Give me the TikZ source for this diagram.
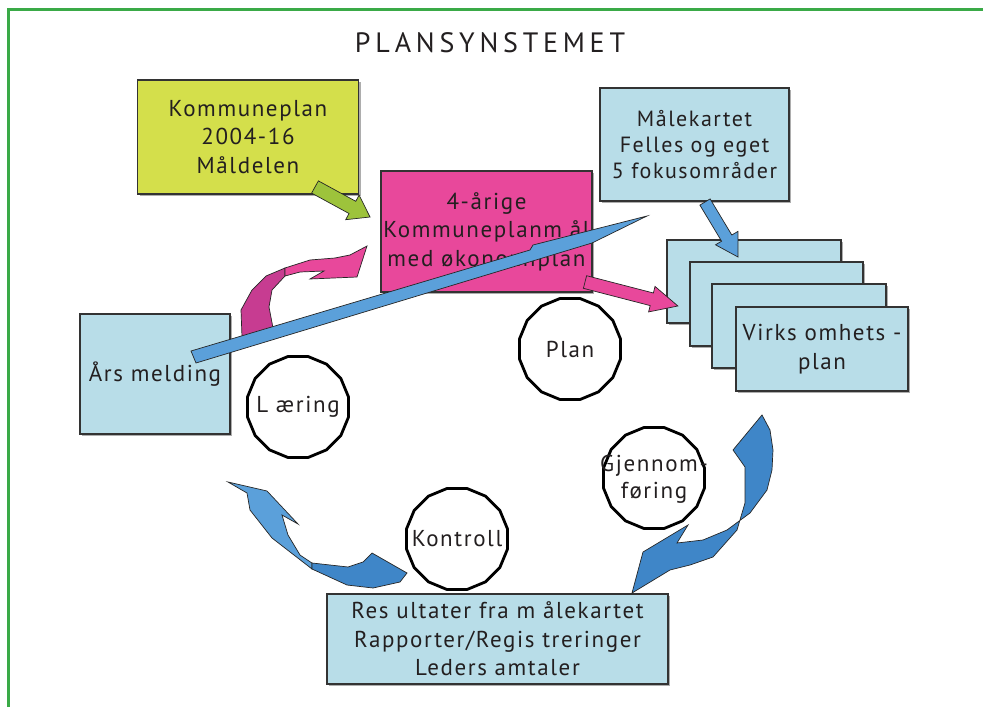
\documentclass[tikz,border=0pt]{standalone}
\usepackage{fontspec}
\setmainfont{PT Sans}[LetterSpace=7]
\usetikzlibrary{shapes.geometric,shadows}
\definecolor{txt}{HTML}{231F20}
\definecolor{frame}{HTML}{3AAA47}
\definecolor{ygreen}{HTML}{D4DF4B}
\definecolor{pinkbox}{HTML}{E8489B}
\definecolor{darkpink}{HTML}{C73C91}
\definecolor{lblue}{HTML}{B8DDE8}
\definecolor{ablue}{HTML}{5BA0DA}
\definecolor{dblue}{HTML}{3F86C8}
\definecolor{garrow}{HTML}{9DC33B}
\definecolor{edge}{HTML}{333333}
\tikzset{
  box/.style={draw=edge, line width=1.1pt, align=center, inner sep=0pt,
    drop shadow={shadow xshift=2pt, shadow yshift=-2pt, fill=black!40, opacity=0.8}},
  circ/.style={draw=black, line width=2.8pt, regular polygon, regular polygon sides=16,
    minimum size=103pt, inner sep=0pt},
  shapearrow/.style={draw=black!85, line width=0.7pt, line join=miter},
  lbl/.style={align=center, inner sep=0pt}
}
\begin{document}
\begin{tikzpicture}[x=1pt,y=-1pt,font=\fontsize{23}{28.5}\selectfont,text=txt]
\useasboundingbox (0,0) rectangle (983,707);
\fill[white] (0,0) rectangle (983,707);
% frame
\draw[frame, line width=3pt] (8.5,720) -- (8.5,9.5) -- (1000,9.5);
% title
\node[lbl, font=\fontsize{28}{30}\selectfont\addfontfeature{LetterSpace=17}] (title) at (490,43) {PLANSYNSTEMET};

% boxes
\node[box, fill=ygreen, minimum width=221pt, minimum height=114pt] (kp) at (248,137) {Kommuneplan\\2004-16\\Måldelen};
\node[box, fill=pinkbox, minimum width=211pt, minimum height=121pt] (fire) at (486.5,231.5) {4-årige\\Kommuneplanm ål\\med økonomiplan};
\node[box, fill=lblue, minimum width=189pt, minimum height=113pt, font=\fontsize{22}{26}\selectfont] (malek) at (694.5,144.5) {Målekartet\\Felles og eget\\5 fokusområder};
\node[box, fill=lblue, minimum width=174pt, minimum height=83pt] (v1) at (754,281.5) {};
\node[box, fill=lblue, minimum width=173pt, minimum height=84pt] (v2) at (776.5,304) {};
\node[box, fill=lblue, minimum width=174pt, minimum height=84pt] (v3) at (799,326) {};
\node[box, fill=lblue, minimum width=172pt, minimum height=84pt] (v4) at (822,349) {Virks omhets -\\plan};
\node[box, fill=lblue, minimum width=150pt, minimum height=120pt] (ars) at (155,374) {Års melding};
\node[box, fill=lblue, minimum width=341pt, minimum height=90pt] (res) at (497.5,639) {Res ultater fra m ålekartet\\Rapporter/Regis treringer\\Leders amtaler};

% green arrow kp -> fire
\filldraw[shapearrow, fill=garrow] (311.6,193.1) -- (318.4,180.9) -- (355.8,201.3) -- (359.1,195.1) -- (370,217) -- (345.7,219.7) -- (349.0,213.5) -- cycle;

% pink curved arrow ars -> fire
\filldraw[shapearrow, fill=darkpink] (242,337) -- (241,310) -- (252,290) -- (266,276) -- (285,268) -- (285,276) -- (272,290) -- (269,307) -- (273,328) -- cycle;
\filldraw[shapearrow, fill=pinkbox] (285,268) -- (310,260) -- (335,258) -- (350,255) -- (367,246) -- (357,277) -- (310,279) -- (324,271) -- (300,272) -- (285,276) -- cycle;

% long thin blue arrow
\filldraw[shapearrow, fill=ablue] (191,351) -- (530,250) -- (533,245) -- (647,216) -- (592,243) -- (196,363) -- cycle;

% pink straight arrow fire -> v1
\filldraw[shapearrow, fill=pinkbox] (583.4,288.3) -- (586.6,275.7) -- (653.4,293.0) -- (655.0,286.4) -- (677.9,306.0) -- (648.6,311.9) -- (650.2,305.6) -- cycle;

% blue small arrow malek -> v1
\filldraw[shapearrow, fill=ablue] (699.9,205.1) -- (710.1,198.9) -- (731.8,235.0) -- (737.9,231.4) -- (738,257) -- (715.5,244.8) -- (721.6,241.2) -- cycle;

% circles
\node[circ] (plan) at (570,349) {};
\node[lbl] (plant) at (plan) {Plan};
\node[circ] (laer) at (298,407) {};
\node[lbl] (laert) at (laer) {L æring};
\node[circ] (kontr) at (457,539) {};
\node[lbl] (kontrt) at (kontr) {Kontroll};
\node[circ] (gjen) at (654,478) {};
\node[lbl, font=\fontsize{23}{27}\selectfont] (gjent) at (654,479) {Gjennom-\\føring};

% right blue curved arrow v4 -> res
\filldraw[shapearrow, fill=dblue] (762,415) -- (770,430) -- (773,450) -- (772,470) -- (767,490) -- (750,513) -- (727,530) -- (703,540) -- (677,543) -- (688,525) -- (643,552) -- (632,593) -- (670,570) -- (690,565) -- (713,557) -- (737,530) -- (745,503) -- (745,467) -- (733,450) -- cycle;

% left blue curved arrow res -> ars
\filldraw[shapearrow, fill=ablue] (228,482) -- (267,491) -- (298,524) -- (282,515) -- (288,535) -- (300,555) -- (312,563) -- (312,569) -- (272,538) -- (250,510) -- (247,493) -- cycle;
\filldraw[shapearrow, fill=dblue] (312,563) -- (348,567) -- (363,562) -- (372,553) -- (407,573) -- (400,582) -- (373,588) -- (347,585) -- (312,569) -- cycle;
\end{tikzpicture}
\end{document}
